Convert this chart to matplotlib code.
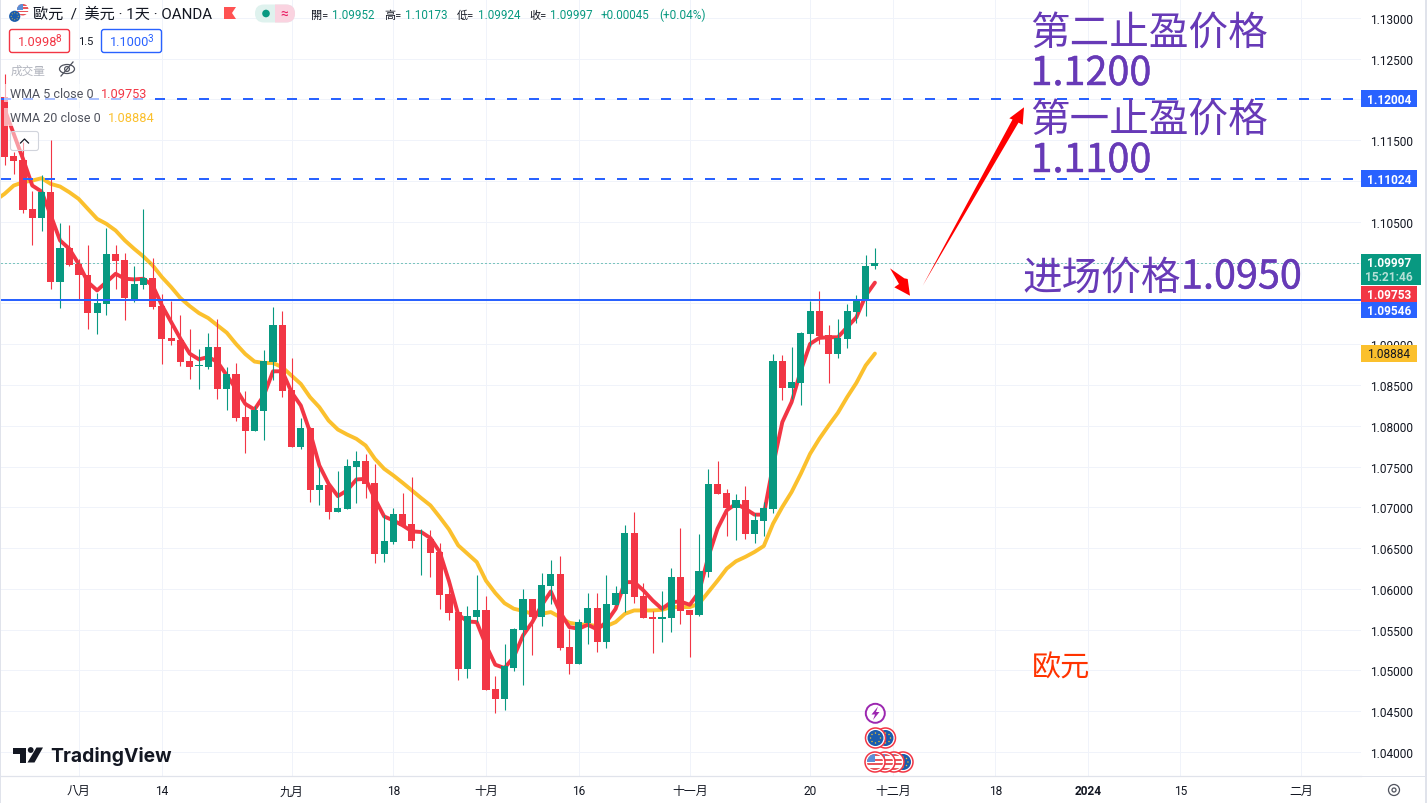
import numpy as np
import matplotlib
matplotlib.use('Agg')
import matplotlib.pyplot as plt
import matplotlib.patheffects as pe
from matplotlib.patches import Rectangle, Circle, Polygon, FancyBboxPatch, Ellipse
from matplotlib.lines import Line2D
from matplotlib.transforms import Affine2D

plt.rcParams['font.family'] = ['Roboto', 'Noto Sans CJK TC', 'DejaVu Sans']

# DATOS
opens = [1.12024, 1.11302, 1.11257, 1.10657, 1.10547, 1.10866, 1.09756, 1.10180, 1.09984, 1.09849,
         1.09384, 1.09495, 1.10107, 1.10033, 1.09556, 1.09727, 1.09813, 1.09470, 1.09078, 1.09054,
         1.08797, 1.08732, 1.08723, 1.08968, 1.08454, 1.08635, 1.08108, 1.07937, 1.08182, 1.08781,
         1.09234, 1.08439, 1.07741, 1.07974, 1.07215, 1.07276, 1.06945, 1.06982, 1.07496, 1.07570,
         1.07300, 1.06431, 1.06578, 1.06921, 1.06799, 1.06607, 1.06615, 1.06456, 1.05942, 1.05720,
         1.05022, 1.05658, 1.05744, 1.04777, 1.04655, 1.05034, 1.05499, 1.05879, 1.05658, 1.06038,
         1.06185, 1.05291, 1.05083, 1.05585, 1.05769, 1.05352, 1.05805, 1.05940, 1.06687, 1.05916,
         1.05658, 1.05634, 1.05646, 1.06148, 1.05744, 1.05683, 1.06209, 1.07289, 1.07179, 1.06995,
         1.07093, 1.06677, 1.06836, 1.06983, 1.08795, 1.08464, 1.08525, 1.09125, 1.09407, 1.09113,
         1.08880, 1.09064, 1.09394, 1.09554, 1.09952]
highs = [1.12310, 1.11351, 1.11473, 1.10882, 1.11073, 1.11502, 1.10486, 1.10462, 1.10045, 1.10217,
         1.09629, 1.10425, 1.10217, 1.10119, 1.09960, 1.10657, 1.10058, 1.09617, 1.09531, 1.09360,
         1.09189, 1.08944, 1.09140, 1.09311, 1.08719, 1.08769, 1.08427, 1.08247, 1.08928, 1.09455,
         1.09406, 1.08830, 1.08096, 1.07986, 1.07496, 1.07288, 1.07447, 1.07594, 1.07692, 1.07655,
         1.07533, 1.06901, 1.06994, 1.07178, 1.07374, 1.06737, 1.06725, 1.06566, 1.06125, 1.05724,
         1.05793, 1.06173, 1.05916, 1.04936, 1.05328, 1.05524, 1.06001, 1.05879, 1.06197, 1.06356,
         1.06405, 1.05512, 1.05634, 1.05952, 1.05952, 1.06173, 1.06038, 1.06785, 1.06944, 1.06075,
         1.05732, 1.05977, 1.06258, 1.06748, 1.05744, 1.06674, 1.07470, 1.07571, 1.07228, 1.07167,
         1.07265, 1.06934, 1.07065, 1.08880, 1.08868, 1.08966, 1.09150, 1.09529, 1.09652, 1.09235,
         1.09309, 1.09492, 1.09603, 1.10092, 1.10173]
lows = [1.11200, 1.11086, 1.10608, 1.10217, 1.10388, 1.09670, 1.09446, 1.09956, 1.09535, 1.09189,
        1.09127, 1.09360, 1.09670, 1.09299, 1.09519, 1.09678, 1.09433, 1.08760, 1.08985, 1.08728,
        1.08577, 1.08454, 1.08699, 1.08332, 1.08193, 1.08059, 1.07668, 1.07937, 1.07827, 1.08561,
        1.08353, 1.07733, 1.07717, 1.07068, 1.07031, 1.06860, 1.06945, 1.06982, 1.07056, 1.07117,
        1.06321, 1.06333, 1.06554, 1.06754, 1.06505, 1.06174, 1.06150, 1.05758, 1.05624, 1.04887,
        1.04912, 1.05593, 1.04765, 1.04483, 1.04520, 1.04998, 1.04826, 1.05193, 1.05548, 1.05818,
        1.05255, 1.04961, 1.05083, 1.05328, 1.05230, 1.05279, 1.05797, 1.05716, 1.05830, 1.05646,
        1.05218, 1.05352, 1.05475, 1.05573, 1.05169, 1.05671, 1.06148, 1.07167, 1.06653, 1.06604,
        1.06616, 1.06567, 1.06653, 1.06934, 1.08317, 1.08330, 1.08256, 1.08982, 1.09003, 1.08525,
        1.08831, 1.08954, 1.09260, 1.09345, 1.09924]
closes = [1.11298, 1.11249, 1.10645, 1.10547, 1.10870, 1.09756, 1.10180, 1.09972, 1.09841, 1.09384,
          1.09507, 1.10107, 1.10021, 1.09560, 1.09739, 1.09813, 1.09458, 1.09066, 1.09042, 1.08785,
          1.08723, 1.08740, 1.08968, 1.08454, 1.08638, 1.08096, 1.07937, 1.08194, 1.08794, 1.09234,
          1.08427, 1.07741, 1.07974, 1.07215, 1.07276, 1.06945, 1.06994, 1.07509, 1.07570, 1.07288,
          1.06431, 1.06591, 1.06921, 1.06774, 1.06591, 1.06615, 1.06444, 1.05930, 1.05709, 1.05022,
          1.05671, 1.05744, 1.04765, 1.04655, 1.05051, 1.05512, 1.05879, 1.05658, 1.06050, 1.06185,
          1.05279, 1.05083, 1.05597, 1.05769, 1.05352, 1.05818, 1.05952, 1.06687, 1.05903, 1.05646,
          1.05634, 1.05658, 1.06148, 1.05732, 1.05683, 1.06222, 1.07286, 1.07167, 1.06995, 1.07093,
          1.06677, 1.06849, 1.06995, 1.08795, 1.08464, 1.08538, 1.09137, 1.09407, 1.09101, 1.08880,
          1.09076, 1.09407, 1.09554, 1.09958, 1.09997]

# el primer valor de cada WMA queda fuera del borde izquierdo
wma5 = [1.12126, 1.11881, 1.11575, 1.11269, 1.10943, 1.10870, 1.10576, 1.10270, 1.10168, 1.09984,
        1.09760, 1.09658, 1.09760, 1.09862, 1.09801, 1.09793, 1.09801, 1.09719, 1.09474, 1.09270,
        1.09066, 1.08883, 1.08813, 1.08842, 1.08781, 1.08618, 1.08451, 1.08267, 1.08198, 1.08369,
        1.08667, 1.08667, 1.08410, 1.08247, 1.07921, 1.07513, 1.07288, 1.07137, 1.07207, 1.07341,
        1.07349, 1.07105, 1.06888, 1.06839, 1.06778, 1.06705, 1.06697, 1.06623, 1.06452, 1.06095,
        1.05685, 1.05601, 1.05593, 1.05308, 1.05071, 1.05030, 1.05165, 1.05430, 1.05593, 1.05797,
        1.05969, 1.05716, 1.05532, 1.05512, 1.05561, 1.05503, 1.05593, 1.05756, 1.06083, 1.06083,
        1.05981, 1.05858, 1.05756, 1.05838, 1.05846, 1.05805, 1.05960, 1.06390, 1.06738, 1.06963,
        1.07044, 1.06983, 1.06910, 1.06910, 1.07514, 1.08044, 1.08289, 1.08676, 1.09003, 1.09076,
        1.09084, 1.09084, 1.09207, 1.09329, 1.09594, 1.09753]
wma20 = [1.10760, 1.10841, 1.10943, 1.10984, 1.11004, 1.11033, 1.10963, 1.10931, 1.10861, 1.10780,
         1.10657, 1.10535, 1.10474, 1.10392, 1.10270, 1.10168, 1.10074, 1.09964, 1.09821, 1.09699,
         1.09564, 1.09466, 1.09380, 1.09319, 1.09229, 1.09140, 1.09002, 1.08879, 1.08786, 1.08769,
         1.08769, 1.08716, 1.08614, 1.08512, 1.08349, 1.08227, 1.08063, 1.07953, 1.07892, 1.07839,
         1.07757, 1.07594, 1.07472, 1.07390, 1.07300, 1.07207, 1.07113, 1.07023, 1.06880, 1.06729,
         1.06533, 1.06431, 1.06329, 1.06100, 1.05950, 1.05825, 1.05757, 1.05730, 1.05695, 1.05695,
         1.05716, 1.05654, 1.05585, 1.05565, 1.05561, 1.05544, 1.05544, 1.05593, 1.05695, 1.05736,
         1.05736, 1.05736, 1.05744, 1.05777, 1.05777, 1.05777, 1.05818, 1.05960, 1.06100, 1.06249,
         1.06339, 1.06392, 1.06453, 1.06526, 1.06800, 1.07004, 1.07187, 1.07412, 1.07656, 1.07840,
         1.08003, 1.08158, 1.08350, 1.08525, 1.08738, 1.08884]

tick_idx = [8, 17, 31, 42, 52, 62, 74, 87, 96, 107, 117, 127, 140]
tick_labels = ['八月', '14', '九月', '18', '十月', '16', '十一月', '20', '十二月', '18', '2024', '15', '二月']
price_ticks = [1.04, 1.045, 1.05, 1.055, 1.06, 1.065, 1.07, 1.075, 1.08, 1.085, 1.09, 1.095,
               1.10, 1.105, 1.11, 1.115, 1.12, 1.125, 1.13]
# estas cuatro quedan tapadas por las etiquetas de precio
hidden_ticks = [1.095, 1.10, 1.11, 1.12]
target_2 = 1.12004
target_1 = 1.11024
entry = 1.09546
last_close = 1.09997

GREEN = '#089981'
RED = '#F23645'
BLUE = '#2962FF'
YELLOW = '#FBC02D'
PURPLE = '#673AB7'
INK = '#131722'
W, H = 1427, 804

fig = plt.figure(figsize=(W / 100, H / 100), dpi=100, facecolor='white')
# coordenadas en pixeles de la captura para las capas dibujadas encima del grafico
px = Affine2D().scale(1 / W, -1 / H).translate(0, 1) + fig.transFigure

ax = fig.add_axes([1 / W, 1 - 777 / H, 1359.5 / W, 777 / H])
ax.set_xlim(-0.378, 146.44)
ax.set_ylim(1.037071, 1.132292)

ax.set_xticks(tick_idx, tick_labels)
ax.set_yticks(price_ticks, ['' if p in hidden_ticks else f'{p:.5f}' for p in price_ticks])
ax.get_xticklabels()[10].set_fontweight('bold')
ax.tick_params(axis='x', length=0, pad=6, labelsize=8.6, labelcolor=INK)
ax.tick_params(axis='y', left=False, labelleft=False, right=False, labelright=True,
               length=0, pad=6.8, labelsize=8.6, labelcolor=INK)
ax.grid(True, color='#f0f3fa', linewidth=0.72)
ax.set_axisbelow(True)
for name, spine in ax.spines.items():
    spine.set_visible(name == 'bottom')
ax.spines['bottom'].set_color('#e0e3eb')
ax.spines['bottom'].set_linewidth(0.9)

# medias moviles debajo de las velas
wma_x = np.arange(-1, len(closes))
ax.plot(wma_x, wma20, color=YELLOW, linewidth=2.8, zorder=2, solid_capstyle='round', solid_joinstyle='round')
ax.plot(wma_x, wma5, color=RED, linewidth=2.8, zorder=2.1, solid_capstyle='round', solid_joinstyle='round')

# velas
x = np.arange(len(closes))
o = np.array(opens)
c = np.array(closes)
colors = [GREEN if cl >= op else RED for op, cl in zip(opens, closes)]
ax.vlines(x, lows, highs, colors=colors, linewidth=0.8, zorder=3)
ax.bar(x, np.maximum(np.abs(c - o), 0.00008), bottom=np.minimum(o, c), width=0.77, color=colors, linewidth=0, zorder=3.1)

# lineas horizontales
ax.axhline(last_close, color=GREEN, linewidth=0.72, dashes=(1, 3), zorder=2.5)
ax.axhline(target_2, color=BLUE, linewidth=1.44, dashes=(5, 6), dash_capstyle='butt', zorder=4)
ax.axhline(target_1, color=BLUE, linewidth=1.44, dashes=(5, 6), dash_capstyle='butt', zorder=4)
ax.axhline(entry, color=BLUE, linewidth=1.44, zorder=4)


def rect(x0, y0, w, h, color, alpha=None, zorder=5):
    fig.add_artist(Rectangle((x0, y0), w, h, facecolor=color, edgecolor='none', alpha=alpha,
                             transform=px, zorder=zorder))


def txt(x0, y0, s, size=8.6, color=INK, ha='left', family=None, weight='normal', alpha=None, zorder=7, thick=0):
    t = fig.text(x0, y0, s, transform=px, fontsize=size, color=color, ha=ha, va='center',
                 family=family if family else plt.rcParams['font.family'], weight=weight, alpha=alpha, zorder=zorder)
    if thick:
        t.set_path_effects([pe.withStroke(linewidth=thick, foreground=color)])


def rounded(x0, y0, w, h, edge, face='white', lw=1.0, radius=2.5, zorder=6):
    fig.add_artist(FancyBboxPatch((x0, y0), w, h, boxstyle=f'round,pad=0,rounding_size={radius}',
                                  facecolor=face, edgecolor=edge, linewidth=lw, transform=px, zorder=zorder))


def eu_flag(cx, cy, r, zorder):
    fig.add_artist(Circle((cx, cy), r, facecolor='#1a5cad', edgecolor='none', transform=px, zorder=zorder))
    for a in np.linspace(0, 2 * np.pi, 8, endpoint=False):
        fig.add_artist(Circle((cx + 0.62 * r * np.cos(a), cy + 0.62 * r * np.sin(a)), max(r * 0.09, 0.45),
                              facecolor='#f2c230', edgecolor='none', transform=px, zorder=zorder + 0.01))


def us_flag(cx, cy, r, zorder):
    clip = Circle((cx, cy), r, transform=px)
    fig.add_artist(Circle((cx, cy), r, facecolor='white', edgecolor='none', transform=px, zorder=zorder))
    for k in range(0, 7, 2):
        stripe = Rectangle((cx - r, cy - r + k * 2 * r / 7), 2 * r, 2 * r / 7, facecolor='#e8555a',
                           edgecolor='none', transform=px, zorder=zorder + 0.01)
        stripe.set_clip_path(clip)
        fig.add_artist(stripe)
    canton = Rectangle((cx - r, cy - r), r, r, facecolor='#5b8fd6', edgecolor='none', transform=px, zorder=zorder + 0.02)
    canton.set_clip_path(clip)
    fig.add_artist(canton)


def event_ring(cx, cy, zorder):
    fig.add_artist(Circle((cx, cy), 10, facecolor='white', edgecolor=RED, linewidth=1.1, transform=px, zorder=zorder))


# etiquetas del eje de precios
rect(1361, 91, 56, 17, BLUE)
txt(1389, 100, '1.12004', color='white', ha='center', weight='bold')
rect(1361, 171, 56, 17, BLUE)
txt(1389, 180, '1.11024', color='white', ha='center', weight='bold')
rect(1361, 255, 60, 31, GREEN)
txt(1389, 263.5, '1.09997', color='white', ha='center', weight='bold')
txt(1389, 278, '15:21:46', color='#b5e0d6', ha='center', weight='bold')
rect(1361, 287, 56, 16, RED)
txt(1389, 295.5, '1.09753', color='white', ha='center', weight='bold')
rect(1361, 303, 56, 16, BLUE)
txt(1389, 311.5, '1.09546', color='white', ha='center', weight='bold')
rect(1361, 346, 56, 16.5, YELLOW)
txt(1389, 354.8, '1.08884', ha='center')

# borde de la captura
rect(0, 0, 1, 804, '#e0e3eb')
rect(1425, 0, 2, 804, '#e0e3eb')
rect(0, 777, 1427, 1, '#e0e3eb', zorder=1)

# cabecera
us_flag(22.7, 10.7, 5.8, 6)
eu_flag(14.7, 17.3, 5.6, 6.5)
txt(33, 15, '歐元  /  美元 · 1天 · OANDA', size=10.9)
fig.add_artist(Polygon([(224, 8), (236, 8), (232, 14), (236, 20), (224, 20)], facecolor='#FF5252',
                       edgecolor='none', transform=px, zorder=6))
rounded(255, 5.5, 40, 18, 'none', face='#dff2ee', radius=9)
right_pill = FancyBboxPatch((255, 5.5), 40, 18, boxstyle='round,pad=0,rounding_size=9', facecolor='#fad3e0',
                            edgecolor='none', transform=px, zorder=6.1)
right_pill.set_clip_path(Rectangle((275, 0), 30, 30, transform=px))
fig.add_artist(right_pill)
fig.add_artist(Circle((266, 14.5), 3.8, facecolor=GREEN, edgecolor='none', transform=px, zorder=6.2))
txt(284, 14.5, '≈', size=10, color='#E91E63', ha='center')

ohlc_labels = ['開=', '高=', '低=', '收=']
ohlc_values = ['1.09952', '1.10173', '1.09924', '1.09997']
for lab_x, lab, val in zip([311, 384, 457, 529], ohlc_labels, ohlc_values):
    txt(lab_x, 15.5, lab, size=8)
    txt(lab_x + 21, 15.5, val, size=8.4, color=GREEN)
txt(601, 15.5, '+0.00045', size=8.4, color=GREEN)
txt(659, 15.5, '(+0.04%)', size=8.6, color=GREEN)

# compra / venta
rounded(9.5, 30.5, 60, 23, RED)
txt(17.7, 42.5, '1.0998', size=9.2, color=RED)
txt(55.8, 39, '8', size=7.2, color=RED)
txt(85.7, 42, '1.5', size=8, ha='center')
rounded(101.5, 30.5, 60, 23, BLUE)
txt(110, 42.5, '1.1000', size=9.2, color=BLUE)
txt(148, 39, '3', size=7.2, color=BLUE)

# leyenda
txt(11, 71, '成交量', size=8.4, color='#b2b5be')
fig.add_artist(Ellipse((67, 70), 15, 9, facecolor='none', edgecolor='#50535e', linewidth=0.9, transform=px, zorder=7))
fig.add_artist(Circle((67, 70), 2.4, facecolor='none', edgecolor='#50535e', linewidth=0.9, transform=px, zorder=7))
fig.add_artist(Line2D([61, 73], [77, 63], color='#50535e', linewidth=0.9, transform=px, zorder=7))
rect(4, 85, 146, 18, 'white', alpha=0.6, zorder=5.5)
rect(4, 109, 153, 18, 'white', alpha=0.6, zorder=5.5)
txt(10, 95, 'WMA 5 close 0', size=9, color='#50535e')
txt(101, 95, '1.09753', size=9.2, color=RED)
txt(10, 119, 'WMA 20 close 0', size=9, color='#50535e')
txt(108, 119, '1.08884', size=9.2, color=YELLOW)
rounded(10.5, 132.5, 28, 19, '#d1d4dc', face=(1, 1, 1, 0.5), lw=0.8)
fig.add_artist(Line2D([20.5, 24.5, 28.5], [144, 140, 144], color=INK, linewidth=0.9, transform=px, zorder=7))

# eventos
fig.add_artist(Circle((875.3, 714.3), 9.5, facecolor='white', edgecolor='#9C27B0', linewidth=1.4, transform=px, zorder=6))
fig.add_artist(Polygon([(878, 707.5), (871.5, 715.5), (875, 715.5), (873, 721), (879.5, 713), (876, 713)],
                       facecolor='#9C27B0', edgecolor='none', transform=px, zorder=6.1))
for cx, z in zip([885.5, 875.5], [6, 6.1]):
    event_ring(cx, 739, z)
    eu_flag(cx, 739, 8, z + 0.01)
event_ring(903, 763, 6)
eu_flag(903, 763, 8, 6.01)
for cx, z in zip([894, 885, 875], [6.1, 6.2, 6.3]):
    event_ring(cx, 763, z)
    us_flag(cx, 763, 8, z + 0.01)

# logo
fig.add_artist(Polygon([(13, 748.5), (26, 748.5), (26, 763.5), (19.5, 763.5), (19.5, 755), (13, 755)],
                       facecolor=INK, edgecolor='none', transform=px, zorder=6))
fig.add_artist(Circle((30.7, 751), 2.9, facecolor=INK, edgecolor='none', transform=px, zorder=6))
fig.add_artist(Polygon([(36.5, 748.5), (43, 748.5), (34.5, 763.5), (27.5, 763.5)], facecolor=INK,
                       edgecolor='none', transform=px, zorder=6))
txt(50, 756.5, 'TradingView', size=13.9, family=['Inter', 'DejaVu Sans'], weight='bold')

# icono de ajustes
fig.add_artist(Circle((1394, 791), 5.5, facecolor='none', edgecolor='#50535e', linewidth=0.9, transform=px, zorder=6))
fig.add_artist(Circle((1394, 791), 2, facecolor='none', edgecolor='#50535e', linewidth=0.9, transform=px, zorder=6))

# flechas rojas
fig.add_artist(Polygon([(922.7, 286.7), (1012.5, 120.5), (1009.3, 119.3), (1024, 108.3), (1022.7, 125.7), (1018.5, 123.6)],
                       facecolor='#FF0000', edgecolor='none', transform=px, zorder=6))
fig.add_artist(Polygon([(890, 269.3), (904.3, 279.3), (907.7, 280), (910, 296.7), (894.3, 288.3), (899, 285)],
                       facecolor='#FF0000', edgecolor='none', transform=px, zorder=6))

# textos de la operacion
cjk = ['Noto Sans CJK SC', 'DejaVu Sans']
txt(1030.5, 34, '第二止盈价格', size=28.5, color=PURPLE, family=cjk)
txt(1030.5, 75, '1.1200', size=28.5, color=PURPLE, family=cjk, thick=0.3)
txt(1030.5, 121, '第一止盈价格', size=28.5, color=PURPLE, family=cjk)
txt(1030.5, 162, '1.1100', size=28.5, color=PURPLE, family=cjk, thick=0.3)
txt(1022, 278.5, '进场价格', size=28.5, color=PURPLE, family=cjk)
txt(1181, 278.5, '1.0950', size=28.5, color=PURPLE, family=cjk, thick=0.3)
txt(1032, 668.5, '欧元', size=21, color='#FF3300', family=cjk)

fig.savefig('out.png', dpi=100)
